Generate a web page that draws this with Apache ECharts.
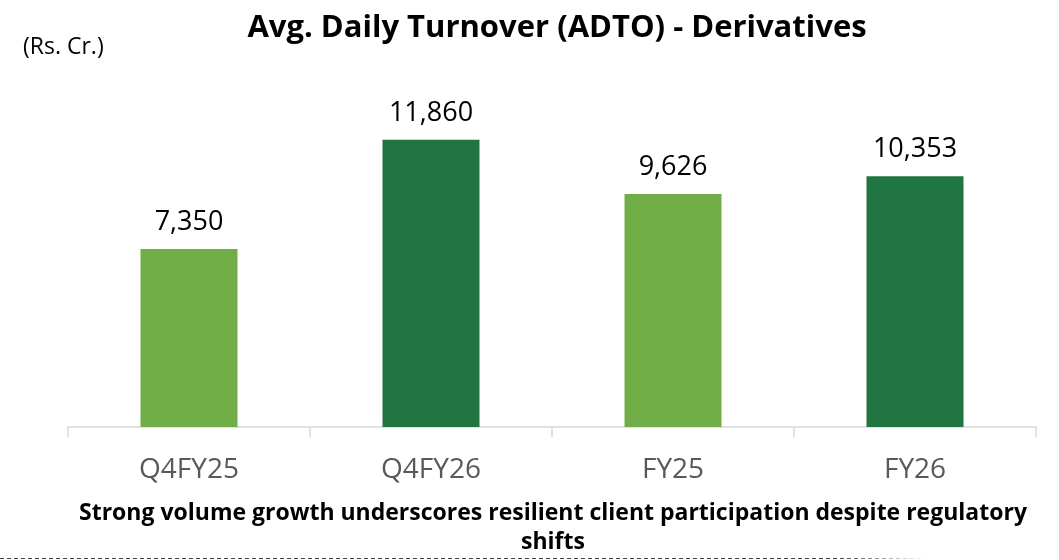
<!DOCTYPE html>
<html lang="en">
<head>
<meta charset="UTF-8">
<title>ADTO - Derivatives</title>
<style>
  * { margin: 0; padding: 0; }
  #chart { width: 1059px; height: 560px; }
</style>
</head>
<body>
<div id="chart"></div>
<script src="https://cdn.jsdelivr.net/npm/echarts@6/dist/echarts.min.js"></script>
<script>
var categories = ['Q4FY25', 'Q4FY26', 'FY25', 'FY26'];
var turnover = [7350, 11860, 9626, 10353];
var barColors = ['#70ad47', '#217541', '#70ad47', '#217541'];

var font = '"Open Sans", sans-serif';

var myChart = echarts.init(document.getElementById('chart'));

var option = {
  animation: false,
  backgroundColor: '#fff',
  grid: { left: 68, right: 23, top: 88, bottom: 133 },
  xAxis: {
    type: 'category',
    data: categories,
    axisLine: { lineStyle: { color: '#d9d9d9', width: 1.5 } },
    axisTick: { show: true, length: 10, lineStyle: { color: '#d9d9d9', width: 1.5 } },
    axisLabel: { fontFamily: font, fontSize: 28, color: '#595959', margin: 29 }
  },
  yAxis: {
    type: 'value',
    min: 0,
    max: 14000,
    show: false,
    splitLine: { show: false }
  },
  series: [{
    type: 'bar',
    barWidth: 97,
    data: turnover.map(function (v, i) {
      return { value: v, itemStyle: { color: barColors[i] } };
    }),
    label: {
      show: true,
      position: 'top',
      distance: 13,
      fontFamily: font,
      fontSize: 27,
      color: '#000',
      formatter: function (p) { return p.value.toLocaleString('en-US'); }
    }
  }],
  graphic: [{
    type: 'text',
    x: 557, y: 28,
    style: {
      text: 'Avg. Daily Turnover (ADTO) - Derivatives',
      font: 'bold 31px ' + font,
      fill: '#000',
      textAlign: 'center',
      textVerticalAlign: 'middle'
    }
  }, {
    type: 'text',
    x: 23, y: 47,
    style: {
      text: '(Rs. Cr.)',
      font: '23px ' + font,
      fill: '#000',
      textAlign: 'left',
      textVerticalAlign: 'middle'
    }
  }, {
    type: 'text',
    x: 553, y: 513,
    style: {
      text: 'Strong volume growth underscores resilient client participation despite regulatory',
      font: 'bold 23px ' + font,
      fill: '#000',
      textAlign: 'center',
      textVerticalAlign: 'middle'
    }
  }, {
    type: 'text',
    x: 553, y: 542,
    style: {
      text: 'shifts',
      font: 'bold 23px ' + font,
      fill: '#000',
      textAlign: 'center',
      textVerticalAlign: 'middle'
    }
  }, {
    type: 'line',
    shape: { x1: 0, y1: 558.5, x2: 925, y2: 558.5 },
    style: {
      stroke: new echarts.graphic.LinearGradient(0, 0, 1, 0, [
        { offset: 0, color: '#404040' },
        { offset: 0.9, color: '#404040' },
        { offset: 1, color: '#ffffff' }
      ]),
      lineWidth: 1,
      lineDash: [4, 3]
    }
  }]
};

myChart.setOption(option);
</script>
</body>
</html>
